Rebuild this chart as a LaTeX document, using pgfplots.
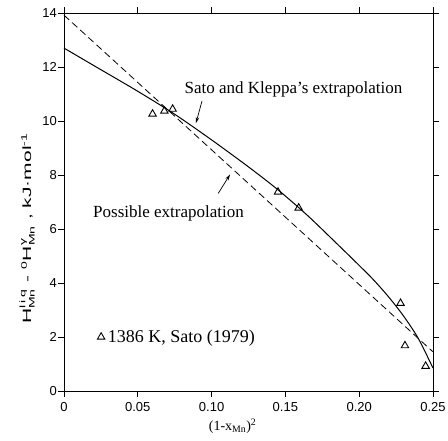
\documentclass[border=0pt]{standalone}
\usepackage{fontspec}
\setmainfont{Liberation Serif}
\newfontfamily\helv{Liberation Sans}
\usepackage{amsmath}
\usepackage{graphicx}
\usepackage{pgfplots}
\pgfplotsset{compat=1.18}
\usetikzlibrary{arrows.meta}
\newcommand{\tickfont}{\helv\fontsize{13}{15}\selectfont}
\newcommand{\ylabfont}{\helv\fontsize{12}{14}\selectfont}
\newcommand{\xlabfont}{\fontsize{14}{16}\selectfont}
\newcommand{\annfont}{\fontsize{17}{20}\selectfont}
\newcommand{\legfont}{\fontsize{18}{20}\selectfont}
\begin{document}
\begin{tikzpicture}
\begin{axis}[
  scale only axis, width=369pt, height=378pt,
  xmin=0, xmax=0.25, ymin=0, ymax=14,
  xtick={0,0.05,0.10,0.15,0.20,0.25},
  xticklabels={0,0.05,0.10,0.15,0.20,0.25},
  ytick={0,2,4,6,8,10,12,14},
  tick align=outside,
  major tick length=6pt,
  axis line style={line width=0.8pt},
  major tick style={black, line width=0.8pt},
  /pgf/number format/assume math mode=true,
  tick label style={font=\tickfont},
  yticklabel style={anchor=east, inner sep=1pt},
  xticklabel style={anchor=north, inner sep=0pt, yshift=-5pt},
  legend style={draw=none, fill=none, inner sep=0pt, font=\legfont,
    at={(axis cs:0.0225,2.0)}, anchor=west, nodes={inner sep=3pt}},
  legend image code/.code={\draw[#1] plot coordinates {(0pt,0pt)};},
  clip=false,
]
% Sato and Kleppa's extrapolation (solid)
\addplot[black, line width=1pt, smooth, forget plot] coordinates {
(0,12.7)(0.025,11.9)(0.05,11.1)(0.075,10.25)(0.1,9.3)(0.125,8.3)(0.145,7.45)
(0.165,6.5)(0.185,5.45)(0.2,4.65)(0.21,4.1)(0.22,3.48)(0.23,2.78)(0.24,1.95)(0.25,0.85)};
% Possible extrapolation (dashed)
\addplot[black, line width=0.8pt, dash pattern=on 7pt off 4pt, forget plot] coordinates {
(0,13.92)(0.25,1.45)};
% data
\addplot[only marks, mark=triangle, mark size=4.3pt, mark options={line width=0.9pt, black}] coordinates {
(0.060,10.26)(0.068,10.37)(0.0736,10.44)(0.145,7.37)(0.159,6.78)(0.228,3.25)(0.231,1.68)(0.245,0.92)};
\addlegendentry{1386 K, Sato (1979)}
\node[font=\annfont, anchor=base] at (axis cs:0.1555,11.03) {Sato and Kleppa's extrapolation};
\node[font=\annfont, anchor=base] at (axis cs:0.0708,6.42) {Possible extrapolation};
\draw[line width=0.7pt, -{Stealth[length=6pt,width=3.5pt]}] (axis cs:0.0935,10.74) -- (axis cs:0.0894,9.92);
\draw[line width=0.7pt, -{Stealth[length=6pt,width=3.5pt]}] (axis cs:0.1045,7.32) -- (axis cs:0.1125,8.02);
\node[font=\ylabfont, rotate=90, anchor=center] at (axis description cs:-0.1,0.43)
  {\scalebox{1.75}[1]{H$^{\text{l\,i\,q}}_{\text{Mn}}$ - $^{\text{0}}$H$^{\text{γ}}_{\text{Mn}}$ , kJ·mol$^{\text{-1}}$}};
\node[font=\xlabfont, anchor=center] at (axis description cs:0.457,-0.093)
  {(1-x$_{\text{Mn}}$)$^{\text{2}}$};
\end{axis}
\path (current axis.south west) ++(-64pt,-49pt) rectangle ++(448pt,440pt);
\end{tikzpicture}
\end{document}
